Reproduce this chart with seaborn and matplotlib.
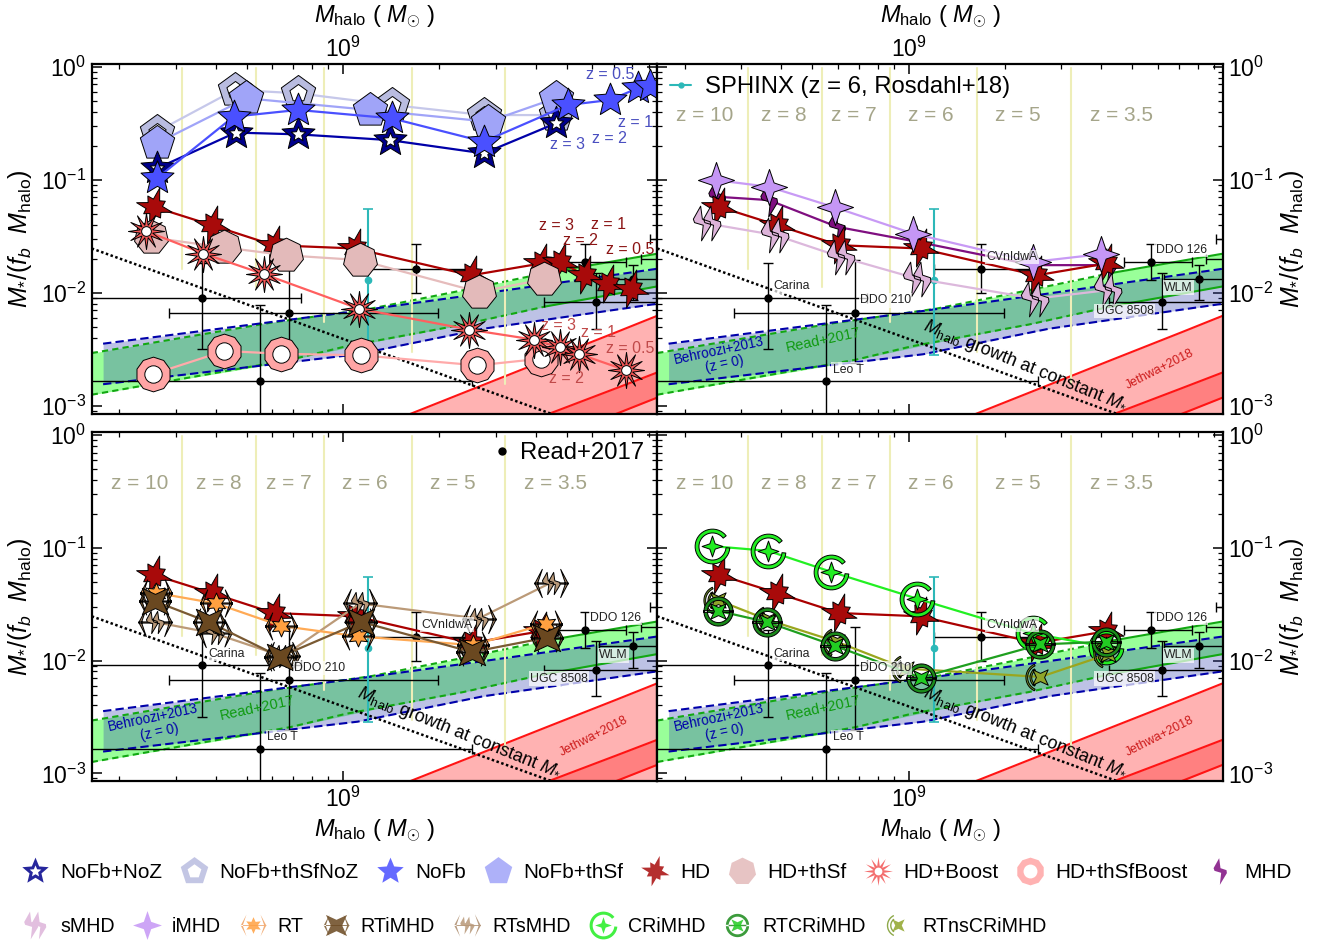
import numpy as np
import matplotlib
matplotlib.use("Agg")
import matplotlib.pyplot as plt
from matplotlib.lines import Line2D
from matplotlib.path import Path
from matplotlib.legend_handler import HandlerTuple
from matplotlib.ticker import LogLocator, NullFormatter
import seaborn as sns

# simulations, halo mass / stellar fraction
nofb_noz_x = [2.62e8, 4.62e8, 7.23e8, 1.40e9, 2.75e9, 4.63e9]
nofb_noz_y = [0.126, 0.261, 0.252, 0.224, 0.171, 0.316]
nofb_thsfnoz_x = [2.62e8, 4.59e8, 7.23e8, 1.42e9, 2.75e9, 4.61e9]
nofb_thsfnoz_y = [0.266, 0.622, 0.581, 0.458, 0.373, 0.373]
nofb_x = [2.62e8, 4.55e8, 7.23e8, 1.42e9, 2.75e9, 5.05e9, 6.82e9, 8.32e9, 9.10e9]
nofb_y = [0.103, 0.361, 0.414, 0.349, 0.217, 0.458, 0.507, 0.643, 0.675]
nofb_thsf_x = [2.62e8, 4.99e8, 1.21e9, 2.84e9, 4.61e9]
nofb_thsf_y = [0.21, 0.525, 0.414, 0.326, 0.525]
hd_x = [2.56e8, 3.89e8, 6.07e8, 1.09e9, 2.51e9, 4.15e9, 4.75e9, 5.70e9, 6.73e9, 7.94e9]
hd_y = [0.0577, 0.0397, 0.0264, 0.0247, 0.0143, 0.0182, 0.0188, 0.0143, 0.0121, 0.0109]
hd_thsf_x = [2.51e8, 4.26e8, 6.65e8, 1.13e9, 2.65e9, 4.25e9]
hd_thsf_y = [0.0309, 0.0252, 0.0215, 0.0195, 0.0102, 0.0132]
hd_boost_x = [2.43e8, 3.66e8, 5.68e8, 1.12e9, 2.48e9, 3.96e9, 4.75e9, 5.44e9, 7.66e9]
hd_boost_y = [0.0351, 0.0223, 0.0146, 0.00726, 0.00474, 0.00386, 0.00333, 0.0029, 0.00207]
hd_thsfboost_x = [2.54e8, 4.26e8, 6.41e8, 1.14e9, 2.63e9, 4.15e9]
hd_thsfboost_y = [0.00191, 0.00307, 0.0029, 0.00281, 0.00229, 0.00262]
mhd_x = [2.52e8, 3.66e8, 5.98e8, 1.07e9, 2.45e9, 4.21e9]
mhd_y = [0.0708, 0.0661, 0.0384, 0.0282, 0.0176, 0.0176]
smhd_x = [2.35e8, 3.84e8, 6.14e8, 1.06e9, 2.49e9, 4.21e9]
smhd_y = [0.0411, 0.0324, 0.0208, 0.0134, 0.0089, 0.0106]
imhd_x = [2.50e8, 3.66e8, 5.90e8, 1.03e9, 2.45e9, 3.98e9]
imhd_y = [0.0993, 0.0867, 0.0569, 0.0335, 0.0188, 0.022]
rt_x = [2.60e8, 4.01e8, 6.41e8, 1.11e9, 2.55e9, 4.32e9]
rt_y = [0.0399, 0.0321, 0.0203, 0.0164, 0.0137, 0.0213]
rtimhd_x = [2.58e8, 3.80e8, 6.35e8, 1.14e9, 2.53e9, 4.33e9]
rtimhd_y = [0.0336, 0.022, 0.0108, 0.022, 0.0119, 0.016]
rtsmhd_x = [2.58e8, 3.97e8, 6.49e8, 1.13e9, 2.65e9, 4.47e9]
rtsmhd_y = [0.022, 0.0174, 0.0109, 0.0321, 0.0236, 0.0492]
crimhd_x = [2.44e8, 3.64e8, 5.74e8, 1.06e9, 2.44e9, 4.14e9]
crimhd_y = [0.1035, 0.094, 0.0612, 0.0355, 0.0174, 0.0132]
rtcrimhd_x = [2.54e8, 3.61e8, 5.90e8, 1.09e9, 2.58e9, 4.14e9]
rtcrimhd_y = [0.0276, 0.022, 0.0135, 0.00706, 0.0139, 0.0147]
rtnscrimhd_x = [2.54e8, 3.66e8, 5.96e8, 9.79e8, 2.58e9, 4.21e9]
rtnscrimhd_y = [0.0343, 0.0228, 0.0147, 0.0085, 0.00716, 0.0114]

# Read+2017 dwarfs
read_names = ["Carina", "DDO 210", "Leo T", "CVnIdwA", "DDO 126", "UGC 8508", "WLM", "", ""]
read_x = [3.63e8, 6.8e8, 5.52e8, 1.69e9, 5.7e9, 6.17e9, 8.07e9, 1.3e10, 1.2e10]
read_x_lo = [1.0e8, 2.85e8, 1.0e8, 1.2e9, 4.7e9, 4.24e9, 6.3e9, 9.1e9, 8.5e9]
read_x_hi = [7.4e8, 1.98e9, 2.53e9, 2.57e9, 7.66e9, 1.4e10, 1.4e10, 1.6e10, 1.6e10]
read_y = [0.0091, 0.0067, 0.00165, 0.0163, 0.0188, 0.0083, 0.0134, 0.03, 0.02]
read_y_lo = [0.00317, 0.0024, 5e-4, 0.01, 0.0129, 0.00483, 0.0086, 0.02, 0.015]
read_y_hi = [0.0185, 0.0197, 0.00778, 0.0268, 0.0268, 0.015, 0.0178, 0.04, 0.027]
read_label_x = [4.32e8, 8.47e8, 6.47e8, 2.11e9, 7.1e9, 4.73e9, 6.98e9]
read_label_y = [0.01146, 0.0086, 0.0021, 0.0208, 0.0239, 0.00693, 0.0111]

sphinx_x = 1.2e9
sphinx_y = 0.01294
sphinx_lo = 0.00284
sphinx_hi = 0.0546

# bands
read_up_x = [1.64e8, 5.89e8, 1.22e9, 2.37e9, 4.3e9, 9.66e9]
read_up_y = [0.00294, 0.00543, 0.00726, 0.01056, 0.015, 0.0223]
read_lo_x = [1.64e8, 6.85e8, 1.02e9, 2.37e9, 4.3e9, 9.66e9]
read_lo_y = [0.00126, 0.00257, 0.00337, 0.00525, 0.0076, 0.01146]
behroozi_x = [1.78e8, 1.11e9, 2.75e9, 9.66e9]
behroozi_up = [0.00356, 0.00693, 0.0099, 0.0164]
behroozi_lo = [0.00156, 0.00287, 0.00483, 0.00805]
jethwa_x = [1.6e9, 4.4e9, 7.14e9, 9.66e9]
jethwa_up = [8.4e-4, 0.00262, 0.0045, 0.00634]
jethwa_mid = [2.86e-4, 8.55e-4, 0.00144, 0.002]
jethwa_lo = [1.6e-4, 4.96e-4, 8.55e-4, 0.0012]
growth_x = [1.64e8, 4.47e9]
growth_y = [0.0247, 8.55e-4]

# redshift guides
guide_x = [3.14e8, 5.35e8, 8.73e8, 1.64e9, 3.21e9]
guide_y0 = [0.0164, 0.0113, 0.00553, 0.003, 0.00158]
z_names = ["z = 10", "z = 8", "z = 7", "z = 6", "z = 5", "z = 3.5"]
z_x = [2.31e8, 4.09e8, 6.75e8, 1.17e9, 2.2e9, 4.61e9]

nofb_z_text = ["z = 0.5", "z = 1", "z = 2", "z = 3"]
nofb_z_x = [6.82e9, 8.18e9, 6.79e9, 5.01e9]
nofb_z_y = [0.844, 0.321, 0.232, 0.207]
hd_z_text = ["z = 3", "z = 1", "z = 2", "z = 0.5"]
hd_z_x = [4.63e9, 6.76e9, 5.52e9, 7.87e9]
hd_z_y = [0.0397, 0.0405, 0.0292, 0.0243]
boost_z_text = ["z = 3", "z = 1", "z = 0.5", "z = 2"]
boost_z_x = [4.72e9, 6.29e9, 7.87e9, 4.97e9]
boost_z_y = [0.00518, 0.00443, 0.00321, 0.00175]


def poly(xy):
    xy = np.asarray(xy, dtype=float)
    return Path(np.vstack([xy, xy[:1]]), closed=True)


def star(radii, rot=90):
    ang = np.radians(rot + np.arange(len(radii)) * 360 / len(radii))
    r = np.asarray(radii)
    return poly(np.c_[r * np.cos(ang), r * np.sin(ang)])


def arc(r0, r1, a0, a1):
    t = np.radians(np.linspace(a0, a1, 40))
    outer = np.c_[r1 * np.cos(t), r1 * np.sin(t)]
    inner = np.c_[r0 * np.cos(t), r0 * np.sin(t)]
    return poly(np.vstack([outer, inner[::-1]]))


def shift(path, dx, scale=1.0):
    return Path(path.vertices * scale + [dx, 0], path.codes)


def join(*paths):
    return Path.make_compound_path(*paths)


STAR5 = star([1, 0.45] * 5)
PENT = Path.unit_regular_polygon(5)
HEPT = Path.unit_regular_polygon(7)
DECA = Path.unit_regular_polygon(10)
CIRC = Path.unit_circle()
STAR4 = star([1, 0.36] * 4)
XSTAR = star([1, 0.38] * 4, rot=45)
JAG = star([1, 0.42, 0.66, 0.4, 0.92, 0.42, 0.62, 0.38, 0.95, 0.42, 0.6, 0.4, 0.9, 0.4, 0.62, 0.42], rot=75)
SPIKE = star([1, 0.36] * 12)
BOLT = poly([(-0.1, 1), (-0.52, 0.25), (-0.45, 0.05), (0.05, -0.1), (-0.05, -1),
             (0.48, -0.12), (0.45, 0.1), (0.0, 0.25)])
DBOLT = join(shift(BOLT, -0.28, 0.95), shift(BOLT, 0.28, 0.95))
CHEV = join(poly([(-0.55, 0.85), (-1, 0), (-0.55, -0.85), (-0.84, 0)]),
            poly([(0.55, 0.85), (1, 0), (0.55, -0.85), (0.84, 0)]),
            poly([(-1, 0.035), (1, 0.035), (1, -0.035), (-1, -0.035)]))
RING = arc(0.78, 1, 38, 355)
DRING = join(arc(0.76, 1, 0, 360), poly([(-1, 0.06), (1, 0.06), (1, -0.06), (-1, -0.06)]))
CRESC = join(arc(0.88, 1, 115, 245), arc(0.6, 0.72, 125, 235))

# line colour, marker layers (path, diameter in points, fill)
styles = {
    "NoFb+NoZ": ("#0000a8", [(STAR5, 25, "#00008b"), (STAR5, 11, "white")]),
    "NoFb+thSfNoZ": ("#c6c8ea", [(PENT, 26, "#b9bce0"), (PENT, 13, "white")]),
    "NoFb": ("#4a50ff", [(STAR5, 25, "#4a50ff")]),
    "NoFb+thSf": ("#a0a4f8", [(PENT, 26, "#a0a4f8")]),
    "HD": ("#aa0000", [(JAG, 28, "#a80a0a")]),
    "HD+thSf": ("#e6bcbc", [(HEPT, 25, "#e3baba")]),
    "HD+Boost": ("#ff5f5f", [(SPIKE, 26, "#f25555"), (CIRC, 7, "white")]),
    "HD+thSfBoost": ("#ffaaaa", [(DECA, 25, "#ffa5a5"), (CIRC, 12.5, "white")]),
    "MHD": ("#7f0f80", [(BOLT, 24, "#7f0f80")]),
    "sMHD": ("#dcb8dc", [(DBOLT, 25, "#ddb4da")]),
    "iMHD": ("#c89af5", [(STAR4, 26, "#c596f5")]),
    "RT": ("#ffaa55", [(CHEV, 23, "#f0a060"), (star([1, 0.5] * 6), 15, "#ffa040")]),
    "RTiMHD": ("#7a5a33", [(CHEV, 23, "#7a5a33"), (XSTAR, 19, "#6a4820")]),
    "RTsMHD": ("#bb9a78", [(CHEV, 24, "#ab8a6a"), (DBOLT, 16, "#b89878")]),
    "CRiMHD": ("#22f022", [(RING, 25, "#22ee22"), (STAR4, 15, "#22ee22")]),
    "RTCRiMHD": ("#1f9f1f", [(DRING, 21, "#1a8a1a"), (XSTAR, 11, "#22cc22")]),
    "RTnsCRiMHD": ("#9aa61e", [(CRESC, 21, "#7a9a2a"), (XSTAR, 11, "#8fa52a")]),
}
sims = {
    "NoFb+NoZ": (nofb_noz_x, nofb_noz_y),
    "NoFb+thSfNoZ": (nofb_thsfnoz_x, nofb_thsfnoz_y),
    "NoFb": (nofb_x, nofb_y),
    "NoFb+thSf": (nofb_thsf_x, nofb_thsf_y),
    "HD": (hd_x, hd_y),
    "HD+thSf": (hd_thsf_x, hd_thsf_y),
    "HD+Boost": (hd_boost_x, hd_boost_y),
    "HD+thSfBoost": (hd_thsfboost_x, hd_thsfboost_y),
    "MHD": (mhd_x, mhd_y),
    "sMHD": (smhd_x, smhd_y),
    "iMHD": (imhd_x, imhd_y),
    "RT": (rt_x, rt_y),
    "RTiMHD": (rtimhd_x, rtimhd_y),
    "RTsMHD": (rtsmhd_x, rtsmhd_y),
    "CRiMHD": (crimhd_x, crimhd_y),
    "RTCRiMHD": (rtcrimhd_x, rtcrimhd_y),
    "RTnsCRiMHD": (rtnscrimhd_x, rtnscrimhd_y),
}

sns.set_theme(style="ticks")
plt.rcParams["font.family"] = ["Liberation Sans", "DejaVu Sans"]
plt.rcParams["mathtext.fontset"] = "custom"
plt.rcParams["mathtext.rm"] = "Liberation Sans"
plt.rcParams["mathtext.it"] = "Liberation Sans:italic"
plt.rcParams["mathtext.bf"] = "Liberation Sans:bold"
plt.rcParams["text.color"] = "black"

W, H = 1323, 943
fig = plt.figure(figsize=(W / 100, H / 100), dpi=100)
PANEL_W = 565.5
LEFT = [91.7, 657.2]
TOPS = [63.5, 432]
BOTS = [413.5, 780.7]


def draw_sim(ax, name, z, npts=None):
    x, y = sims[name]
    x, y = x[:npts], y[:npts]
    color, layers = styles[name]
    sns.lineplot(x=x, y=y, color=color, lw=1.6, sort=False, estimator=None, ax=ax, zorder=z)
    for i, (path, d, fc) in enumerate(layers):
        sns.scatterplot(x=x, y=y, marker=path, s=d ** 2, color=fc, edgecolor="black",
                        linewidth=0.7, legend=False, ax=ax, zorder=z + 0.1 + i * 0.1)


def background(ax):
    ax.fill_between(read_up_x, read_up_y, np.interp(read_up_x, read_lo_x, read_lo_y),
                    color="#99ff99", lw=0, zorder=1)
    ax.fill_between(behroozi_x, behroozi_up, behroozi_lo, color="#3444b1", alpha=0.32, lw=0, zorder=1.1)
    for x, y in [(read_up_x, read_up_y), (read_lo_x, read_lo_y)]:
        ax.plot(x[:5], y[:5], color="#12a812", lw=1.5, ls=(0, (3, 2)), zorder=1.3)
        ax.plot(x[4:], y[4:], color="#12a812", lw=1.5, zorder=1.3)
    ax.plot(behroozi_x, behroozi_up, color="#0000aa", lw=1.5, ls=(0, (4, 2)), zorder=1.4)
    ax.plot(behroozi_x, behroozi_lo, color="#0000aa", lw=1.5, ls=(0, (4, 2)), zorder=1.4)
    ax.fill_between(jethwa_x, jethwa_up, 1e-4, color="#ffb2b2", lw=0, zorder=1.5)
    ax.fill_between(jethwa_x, jethwa_mid, jethwa_lo, color="#ff8080", lw=0, zorder=1.6)
    for vals in (jethwa_up, jethwa_mid, jethwa_lo):
        ax.plot(jethwa_x, vals, color="#ff1414", lw=1.5, zorder=1.7)
    for gx, gy in zip(guide_x, guide_y0):
        ax.plot([gx, gx], [gy, 0.98], color="#eeeeb8", lw=1.5, zorder=1.8)
    ax.plot(growth_x, growth_y, color="black", lw=1.8, ls=(0, (1, 1)), zorder=2)
    ax.errorbar(read_x, read_y,
                xerr=[np.subtract(read_x, read_x_lo), np.subtract(read_x_hi, read_x)],
                yerr=[np.subtract(read_y, read_y_lo), np.subtract(read_y_hi, read_y)],
                fmt="o", color="black", ms=5, lw=1, capsize=3.5, capthick=1, zorder=2.2)
    ax.errorbar([sphinx_x], [sphinx_y], yerr=[[sphinx_y - sphinx_lo], [sphinx_hi - sphinx_y]],
                fmt="o", color="#2cb8b8", ms=4.5, lw=1.5, capsize=3.5, capthick=1.2, zorder=2.3)


def annotate_read(ax):
    for name, x, y in zip(read_names, read_label_x, read_label_y):
        ax.text(x, y, name, fontsize=8.8, ha="center", va="center", color="#222222", zorder=30,
                bbox=dict(fc="white", ec="none", alpha=0.7, pad=1))
    ax.text(2.55e8, 0.00311, "Behroozi+2013", color="#0000aa", fontsize=9.8, rotation=12, ha="center", va="center", zorder=3)
    ax.text(2.67e8, 0.00233, "(z = 0)", color="#0000aa", fontsize=9.8, rotation=12, ha="center", va="center", zorder=3)
    ax.text(5.41e8, 0.00381, "Read+2017", color="#0f9a0f", fontsize=10.5, rotation=12, ha="center", va="center", zorder=3)
    ax.text(6.08e9, 0.00211, "Jethwa+2018", color="#cc1a1a", fontsize=9, rotation=27, ha="center", va="center", zorder=3)
    ax.text(2.31e9, 0.00225, r"$M_{\rm halo}$ growth at constant $M_{*}$", color="black", fontsize=13,
            rotation=-22, ha="center", va="center", rotation_mode="anchor", zorder=3)


def z_guides(ax):
    for name, x in zip(z_names, z_x):
        ax.text(x, 0.372, name, color="#a5a58a", fontsize=15, ha="center", va="center", zorder=3)


def setup(ax, col, row):
    ax.set_xscale("log")
    ax.set_yscale("log")
    ax.set_xlim(1.64e8, 9.58e9)
    ax.set_ylim(8.6e-4, 1.065)
    ax.xaxis.set_major_locator(LogLocator(base=10, numticks=12))
    ax.xaxis.set_minor_locator(LogLocator(base=10, subs=np.arange(2, 10), numticks=12))
    ax.xaxis.set_minor_formatter(NullFormatter())
    ax.yaxis.set_major_locator(LogLocator(base=10, numticks=12))
    ax.yaxis.set_minor_locator(LogLocator(base=10, subs=np.arange(2, 10), numticks=12))
    ax.yaxis.set_minor_formatter(NullFormatter())
    ax.tick_params(which="major", direction="in", length=7, width=1.1, top=True, right=True,
                   labelsize=16.5, pad=4, color="black", labelcolor="black")
    ax.tick_params(which="minor", direction="in", length=3.5, width=0.9, top=True, right=True, color="black")
    ax.tick_params(axis="x", labeltop=row == 0, labelbottom=row == 1, pad=1 if row == 0 else 4)
    ax.tick_params(axis="y", labelleft=col == 0, labelright=col == 1)
    for sp in ax.spines.values():
        sp.set_linewidth(1.6)
        sp.set_color("black")
    xlabel = r"$M_{\rm halo}$ ( $M_{\odot}$ )"
    ax.set_xlabel(xlabel, fontsize=17, color="black")
    ax.xaxis.set_label_position("top" if row == 0 else "bottom")
    ax.xaxis.set_label_coords(0.5, 1.117 if row == 0 else -0.103)
    ax.set_ylabel(r"$M_{*}/(f_b\ \ M_{\rm halo})$", fontsize=18, color="black", rotation=90)
    ax.yaxis.set_label_position("left" if col == 0 else "right")
    ax.yaxis.set_label_coords(-0.102 if col == 0 else 1.098, 0.5)


axes = {}
for col in range(2):
    for row in range(2):
        ax = fig.add_axes([LEFT[col] / W, 1 - BOTS[row] / H, PANEL_W / W, (BOTS[row] - TOPS[row]) / H])
        background(ax)
        setup(ax, col, row)
        axes[col, row] = ax

panels = {
    (0, 0): ["NoFb+thSfNoZ", "NoFb+thSf", "NoFb+NoZ", "NoFb", "HD", "HD+thSf", "HD+thSfBoost", "HD+Boost"],
    (1, 0): ["MHD", "HD", "sMHD", "iMHD"],
    (0, 1): ["HD", "RTsMHD", "RT", "RTiMHD"],
    (1, 1): ["HD", "CRiMHD", "RTnsCRiMHD", "RTCRiMHD"],
}
for key, names in panels.items():
    for i, name in enumerate(names):
        # the HD run only reaches z = 3.5 outside the first panel
        npts = 6 if (name == "HD" and key != (0, 0)) else None
        draw_sim(axes[key], name, 5 + i, npts)

ax = axes[0, 0]
for texts, xs, ys, c in [(nofb_z_text, nofb_z_x, nofb_z_y, "#4a4fc0"),
                         (hd_z_text, hd_z_x, hd_z_y, "#8b1414"),
                         (boost_z_text, boost_z_x, boost_z_y, "#c04a4a")]:
    for t, x, y in zip(texts, xs, ys):
        ax.text(x, y, t, color=c, fontsize=11.5, ha="center", va="center", zorder=20)

for key in [(1, 0), (0, 1), (1, 1)]:
    annotate_read(axes[key])
    z_guides(axes[key])

# panel legends
h = Line2D([], [], color="#2cb8b8", lw=1.5, marker="o", ms=3.5)
axes[1, 0].legend([h], ["SPHINX (z = 6, Rosdahl+18)"], loc="center left", bbox_to_anchor=(0.023, 0.932),
                  frameon=False, fontsize=17.2, handlelength=0.87, handletextpad=0.6, borderpad=0, borderaxespad=0)
h = Line2D([], [], color="black", ls="none", marker="o", ms=5)
axes[0, 1].legend([h], ["Read+2017"], loc="center left", bbox_to_anchor=(0.708, 0.94),
                  frameon=False, fontsize=17.2, handlelength=0.87, handletextpad=0.3, borderpad=0, borderaxespad=0)

# the two legend rows below the panels
row1 = ["NoFb+NoZ", "NoFb+thSfNoZ", "NoFb", "NoFb+thSf", "HD", "HD+thSf", "HD+Boost", "HD+thSfBoost", "MHD"]
row2 = ["sMHD", "iMHD", "RT", "RTiMHD", "RTsMHD", "CRiMHD", "RTCRiMHD", "RTnsCRiMHD"]


def handle(name):
    out = []
    for path, d, fc in styles[name][1]:
        out.append(Line2D([], [], ls="none", marker=path, ms=d * 0.8, mfc=fc, mec="none",
                          alpha=1 if fc == "white" else 0.85))
    return tuple(out)


for names, py, fs in [(row1, 873, 14.95), (row2, 926, 14.1)]:
    fig.legend([handle(n) for n in names], names, ncol=len(names), loc="center left",
               bbox_to_anchor=(19.5 / W, 1 - py / H), frameon=False, fontsize=fs, numpoints=1,
               handlelength=31 / (fs * 100 / 72), handletextpad=9.5 / (fs * 100 / 72),
               columnspacing=16.5 / (fs * 100 / 72), borderpad=0, borderaxespad=0,
               handler_map={tuple: HandlerTuple(ndivide=1, pad=0)})

fig.savefig("out.png", dpi=100)
